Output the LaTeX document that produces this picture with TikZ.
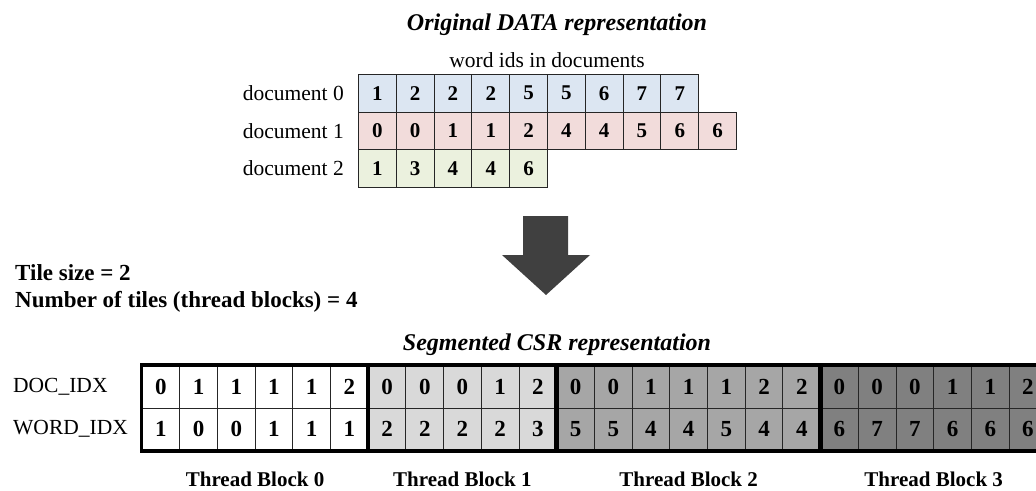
\documentclass[tikz,border=0pt]{standalone}
\usepackage{fontspec}
\setmainfont{Liberation Serif}
\usetikzlibrary{calc}
\definecolor{docA}{HTML}{DCE6F2}
\definecolor{docB}{HTML}{F2DCDB}
\definecolor{docC}{HTML}{EBF1DE}
\definecolor{tbA}{HTML}{FFFFFF}
\definecolor{tbB}{HTML}{D9D9D9}
\definecolor{tbC}{HTML}{A6A6A6}
\definecolor{tbD}{HTML}{808080}
\definecolor{arrowgray}{HTML}{404040}
\tikzset{
  topcell/.style={draw=black!85, line width=0.9pt, minimum width=37.8pt, minimum height=37.5pt,
    inner sep=0pt, anchor=north west, font=\fontsize{21}{24}\selectfont\bfseries},
  botcell/.style={draw=black!85, line width=1pt, minimum width=37.7pt, minimum height=42.5pt,
    inner sep=0pt, anchor=north west, font=\fontsize{23}{26}\selectfont\bfseries},
  blockframe/.style={line width=3.5pt, line join=miter},
  plainlabel/.style={inner sep=0pt, font=\fontsize{21.5}{25}\selectfont},
  titlelabel/.style={inner sep=0pt, anchor=base, font=\fontsize{24}{28}\selectfont\bfseries\itshape},
  boldlabel/.style={inner sep=0pt, anchor=base west, font=\fontsize{23}{27}\selectfont\bfseries},
  tblabel/.style={inner sep=0pt, anchor=base, font=\fontsize{21}{25}\selectfont\bfseries},
}
\begin{document}
\begin{tikzpicture}[x=1pt, y=-1pt]
\useasboundingbox (0,0) rectangle (1036,490);
\clip (0,0) rectangle (1036,490);

% titles
\node[titlelabel] (title1) at (557,30) {Original DATA representation};
\node[plainlabel, anchor=base] (wordids) at (547,67) {word ids in documents};

% top table
\foreach \v [count=\i from 0] in {1,2,2,2,5,5,6,7,7}
  \node[topcell, fill=docA] (ta-\i) at ({358+\i*37.8},74) {\v};
\foreach \v [count=\i from 0] in {0,0,1,1,2,4,4,5,6,6}
  \node[topcell, fill=docB] (tb-\i) at ({358+\i*37.8},111.5) {\v};
\foreach \v [count=\i from 0] in {1,3,4,4,6}
  \node[topcell, fill=docC] (tc-\i) at ({358+\i*37.8},149) {\v};

\node[plainlabel, anchor=east] (doc0) at ($(ta-0.west)+(-14,0)$) {document 0};
\node[plainlabel, anchor=east] (doc1) at ($(tb-0.west)+(-14,0)$) {document 1};
\node[plainlabel, anchor=east] (doc2) at ($(tc-0.west)+(-14,0)$) {document 2};

% arrow
\fill[arrowgray] (523,216) -- (568,216) -- (568,255) -- (590,255) -- (546,295)
  -- (502,255) -- (523,255) -- cycle;

% tile text
\node[boldlabel] (tile1) at (15,280) {Tile size = 2};
\node[boldlabel] (tile2) at (15,307) {Number of tiles (thread blocks) = 4};

% segmented title
\node[titlelabel] (title2) at (557,350) {Segmented CSR representation};

% bottom table
\foreach \v/\c [count=\i from 0] in {0/tbA,1/tbA,1/tbA,1/tbA,1/tbA,2/tbA,0/tbB,0/tbB,0/tbB,1/tbB,2/tbB,0/tbC,0/tbC,1/tbC,1/tbC,1/tbC,2/tbC,2/tbC,0/tbD,0/tbD,0/tbD,1/tbD,1/tbD,2/tbD}
  \node[botcell, fill=\c] (d-\i) at ({141.5+\i*37.7},365) {\v};
\foreach \v/\c [count=\i from 0] in {1/tbA,0/tbA,0/tbA,1/tbA,1/tbA,1/tbA,2/tbB,2/tbB,2/tbB,2/tbB,3/tbB,5/tbC,5/tbC,4/tbC,4/tbC,5/tbC,4/tbC,4/tbC,6/tbD,7/tbD,7/tbD,6/tbD,6/tbD,6/tbD}
  \node[botcell, fill=\c] (w-\i) at ({141.5+\i*37.7},407.5) {\v};

\draw[blockframe] (d-0.north west) rectangle (w-5.south east);
\draw[blockframe] (d-6.north west) rectangle (w-10.south east);
\draw[blockframe] (d-11.north west) rectangle (w-17.south east);
\draw[blockframe] (d-18.north west) rectangle (w-23.south east);

\node[plainlabel, anchor=west] (docidx) at (13,386.5) {DOC\_IDX};
\node[plainlabel, anchor=west] (wordidx) at (13,429) {WORD\_IDX};

\node[tblabel] (tb0) at ($(w-0.south west)!0.5!(w-5.south east)+(0,35)$) {Thread Block 0};
\node[tblabel] (tb1) at ($(w-6.south west)!0.5!(w-10.south east)+(0,35)$) {Thread Block 1};
\node[tblabel] (tb2) at ($(w-11.south west)!0.5!(w-17.south east)+(0,35)$) {Thread Block 2};
\node[tblabel] (tb3) at ($(w-18.south west)!0.5!(w-23.south east)+(0,35)$) {Thread Block 3};
\end{tikzpicture}
\end{document}
